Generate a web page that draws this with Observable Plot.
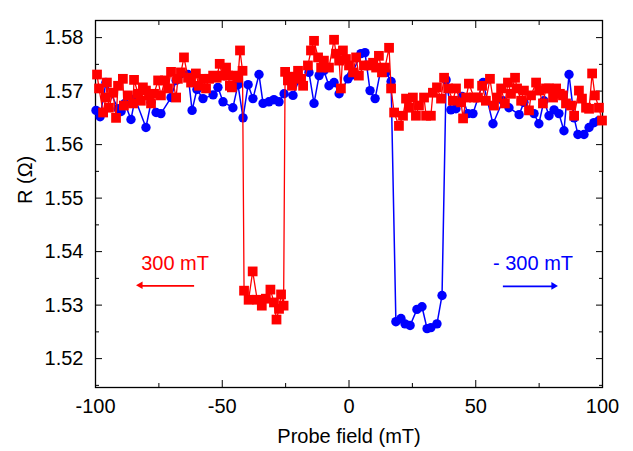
<!DOCTYPE html>
<html><head><meta charset="utf-8">
<script src="https://cdn.jsdelivr.net/npm/d3@7"></script>
<script src="https://cdn.jsdelivr.net/npm/@observablehq/plot@0.6"></script>
<style>body{margin:0;background:#fff}#chart{width:633px;height:451px}</style>
</head><body><div id="chart"></div>
<script>
// Blue series (sweep from -300 mT), probe field in mT and R in ohm
const blueField = [-99.8,-98.2,-95.9,-91.1,-89.9,-88.4,-86.0,-84.4,-80.1,-78.1,-76.1,-74.2,-70.2,-68.2,-63.5,-61.9,-60.0,-57.6,-53.6,-51.7,-49.7,-45.8,-43.8,-41.8,-39.8,-37.9,-35.5,-33.9,-31.6,-29.6,-27.6,-25.6,-22.1,-19.7,-15.8,-13.8,-11.8,-9.9,-7.9,-5.9,-3.9,-0.4,1.0,4.7,6.3,8.3,10.3,12.6,14.6,16.6,
  18.5,20.5,22.1,24.1,26.8,28.8,30.8,32.3,34.7,36.7,
  38.3,40.2,42.2,44.6,46.9,48.9,52.9,56.8,60.7,63.1,67.1,69.0,73.0,74.9,76.9,78.9,80.9,82.8,84.8,86.8,88.8,90.3,92.7,94.7,96.6,98.6];
const blueR = [1.5664,1.5652,1.5716,1.5667,1.5662,1.5677,1.5647,1.5686,1.5632,1.5679,1.5660,1.5658,1.5688,1.5720,1.5731,1.5664,1.5703,1.5686,1.5693,1.5707,1.5680,1.5669,1.5712,1.5650,1.5712,1.5686,1.5731,1.5677,1.5680,1.5684,1.5680,1.5695,1.5692,1.5721,1.5735,1.5677,1.5729,1.5738,1.5710,1.5716,1.5695,1.5723,1.5730,1.5770,1.5772,1.5701,1.5686,1.5742,1.5735,1.5718,
  1.5269,1.5275,1.5265,1.5262,1.5292,1.5297,1.5256,1.5258,1.5265,1.5318,
  1.5721,1.5665,1.5667,1.5690,1.5658,1.5658,1.5716,1.5639,1.5682,1.5669,1.5656,1.5679,1.5658,1.5639,1.5682,1.5654,1.5665,1.5658,1.5626,1.5731,1.5650,1.5619,1.5619,1.5632,1.5641,1.5645];

// Red series (sweep from +300 mT)
const redField = [-99.4,-98.6,-97.0,-95.9,-95.5,-94.7,-93.1,-91.9,-91.1,-89.2,-88.8,-87.2,-85.2,-84.8,-83.2,-82.1,-81.3,-80.1,-78.9,-78.1,-76.9,-75.3,-74.2,-72.6,-71.4,-70.2,-68.2,-67.5,-66.3,-65.1,-63.5,-62.3,-60.4,-59.2,-57.6,-56.4,-55.2,-53.6,-52.2,-51.0,-50.0,-48.5,-47.7,-47.0,-46.2,-45.4,-43.8,-43.0,-42.0,
  -41.4,-39.6,-38.0,-36.2,-34.4,-32.8,-31.0,-29.6,-28.6,-27.6,-26.8,-25.8,
  -25.2,-24.1,-22.5,-21.7,-20.1,-18.9,-18.1,-16.2,-15.0,-13.8,-12.2,-11.0,-9.9,-7.9,-5.9,-5.1,-3.9,-3.2,-2.4,-1.2,0.0,1.6,2.8,3.9,5.9,7.9,9.5,10.7,11.8,13.0,14.2,15.8,16.6,
  17.8,19.7,21.3,22.5,23.7,25.2,26.4,27.6,29.6,30.4,32.3,33.1,34.7,36.3,37.5,39.1,41.0,42.2,44.2,45.0,46.2,47.3,49.3,50.9,52.5,54.0,55.6,57.2,58.4,60.0,61.5,62.7,63.9,65.5,66.3,67.9,69.0,71.0,71.8,73.8,75.0,76.5,77.7,78.9,80.5,81.7,83.2,84.4,85.6,87.6,88.8,90.7,91.9,93.5,94.7,95.9,97.0,98.6,99.8];
const redR = [1.5731,1.5705,1.5660,1.5688,1.5716,1.5669,1.5697,1.5650,1.5710,1.5723,1.5673,1.5692,1.5677,1.5721,1.5695,1.5682,1.5707,1.5701,1.5692,1.5677,1.5695,1.5720,1.5692,1.5720,1.5705,1.5736,1.5688,1.5723,1.5735,1.5763,1.5725,1.5716,1.5733,1.5710,1.5723,1.5705,1.5723,1.5729,1.5725,1.5751,1.5729,1.5744,1.5729,1.5710,1.5707,1.5729,1.5725,1.5776,1.5738,
  1.5327,1.5310,1.5363,1.5310,1.5299,1.5312,1.5329,1.5305,1.5273,1.5293,1.5320,1.5299,
  1.5736,1.5720,1.5710,1.5727,1.5738,1.5723,1.5710,1.5748,1.5776,1.5794,1.5763,1.5744,1.5757,1.5744,1.5796,1.5770,1.5757,1.5705,1.5776,1.5760,1.5748,1.5735,1.5763,1.5729,1.5748,1.5748,1.5753,1.5744,1.5766,1.5735,1.5744,1.5781,1.5705,
  1.5660,1.5635,1.5654,1.5686,1.5669,1.5688,1.5654,1.5673,1.5688,1.5654,1.5654,1.5697,1.5707,1.5686,1.5725,1.5705,1.5682,1.5705,1.5679,1.5649,1.5688,1.5714,1.5688,1.5688,1.5710,1.5682,1.5723,1.5673,1.5688,1.5705,1.5677,1.5716,1.5695,1.5725,1.5705,1.5682,1.5701,1.5664,1.5692,1.5716,1.5701,1.5677,1.5705,1.5705,1.5688,1.5705,1.5695,1.5692,1.5677,1.5673,1.5654,1.5701,1.5686,1.5669,1.5667,1.5733,1.5692,1.5669,1.5645];

// Ticks
const xMajor = [-100, -50, 0, 50, 100];
const xMinor = [-75, -25, 25, 75];
const yMajor = [1.52, 1.53, 1.54, 1.55, 1.56, 1.57, 1.58];
const yMinor = [1.515, 1.525, 1.535, 1.545, 1.555, 1.565, 1.575];

// Annotations
const noteText = ["300 mT", "- 300 mT"];
const noteColor = ["#ff0000", "#0000ff"];
const noteField = [-68.6, 72.6];
const noteR = [1.5378, 1.5378];
const arrowTail = [-61.1, 60.7];
const arrowHead = [-82.1, 80.9];
const arrowR = [1.5336, 1.5335];

const blue = blueField.map((x, i) => ({x, r: blueR[i]}));
const red = redField.map((x, i) => ({x, r: redR[i]}));
const notes = noteText.map((t, i) => ({t, c: noteColor[i], x: noteField[i], r: noteR[i], x1: arrowTail[i], x2: arrowHead[i], ar: arrowR[i], rot: i === 0 ? -90 : 90, dx: i === 0 ? 4 : -4}));

const BLUE = "#0000ff", RED = "#ff0000";
const font = "'Liberation Sans', Arial, Helvetica, sans-serif";

const chart = Plot.plot({
  width: 633, height: 451,
  marginLeft: 95, marginRight: 31, marginTop: 20, marginBottom: 64,
  style: {fontFamily: font, fontSize: "20px", background: "white", color: "black", overflow: "visible"},
  x: {domain: [-100, 100]},
  y: {domain: [1.5146, 1.5832]},
  marks: [
    Plot.axisX(xMajor, {anchor: "bottom", tickSize: 0, tickPadding: 11, tickFormat: d => String(d), label: null, fontSize: 20}),
    Plot.axisX(xMajor, {anchor: "bottom", tickSize: -7, fill: "none", label: null}),
    Plot.axisX(xMinor, {anchor: "bottom", tickSize: -4, fill: "none", label: null}),
    Plot.axisX(xMajor, {anchor: "top", tickSize: -7, fill: "none", label: null}),
    Plot.axisX(xMinor, {anchor: "top", tickSize: -4, fill: "none", label: null}),
    Plot.axisY(yMajor, {anchor: "left", tickSize: 0, tickPadding: 12, tickFormat: d3.format(".2f"), label: null, fontSize: 20}),
    Plot.axisY(yMajor, {anchor: "left", tickSize: -7, fill: "none", label: null}),
    Plot.axisY(yMinor, {anchor: "left", tickSize: -4, fill: "none", label: null}),
    Plot.axisY(yMajor, {anchor: "right", tickSize: -7, fill: "none", label: null}),
    Plot.axisY(yMinor, {anchor: "right", tickSize: -4, fill: "none", label: null}),
    Plot.frame({stroke: "black", strokeWidth: 1.3}),
    Plot.text(["R (Ω)"], {frameAnchor: "left", dx: -70, rotate: -90, fontSize: 20}),
    Plot.text(["Probe field (mT)"], {frameAnchor: "bottom", dy: 55, fontSize: 20}),
    Plot.line(blue, {x: "x", y: "r", stroke: BLUE, strokeWidth: 1.5}),
    Plot.dot(blue, {x: "x", y: "r", r: 4.7, fill: BLUE, stroke: "none"}),
    Plot.line(red, {x: "x", y: "r", stroke: RED, strokeWidth: 1.3}),
    Plot.dot(red, {x: "x", y: "r", symbol: "square", r: 5.5, fill: RED, stroke: "none"}),
    Plot.text(notes, {x: "x", y: "r", text: "t", fill: "c", fontSize: 20}),
    Plot.link(notes, {x1: "x1", x2: "x2", y1: "ar", y2: "ar", stroke: "c", strokeWidth: 1.6}),
    Plot.dot(notes, {x: "x2", y: "ar", symbol: "triangle2", r: 3.6, fill: "c", stroke: "none", rotate: "rot", dx: "dx"})
  ]
});
document.getElementById("chart").appendChild(chart);
</script>
</body></html>
